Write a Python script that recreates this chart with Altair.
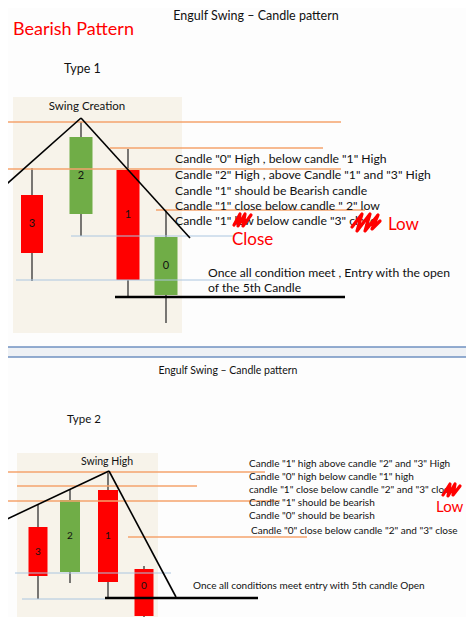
import altair as alt
import pandas as pd

FONT = "Lato"

# ---------------- candles (picture coordinates, y grows downward) -------------
c_label = ["3", "2", "1", "0", "3", "2", "1", "0"]
c_x = [32, 81, 128, 166, 38, 70, 108, 144]
c_half = [11, 11.5, 11.5, 11.5, 9.5, 10, 10, 9.5]
c_open = [195, 214, 170, 295, 527, 572, 490, 569]
c_close = [253, 137, 280, 237, 576, 500, 582, 616]
c_high = [168, 122, 149, 210, 505, 489, 472, 566]
c_low = [281, 236, 298, 323, 599, 583, 598, 622]
c_fs = [11, 11, 11, 11, 10, 10, 10, 10]
c_label_y = [224, 176, 215, 266, 552, 536, 536, 586]

# ---------------- horizontal guide lines ---------------------------------------
g_y = [122, 148, 169, 210, 236, 280, 472, 486, 501, 537, 573, 599]
g_x1 = [0, 110, 0, 156, 71, 16, 0, 17, 6, 128, 15, 22]
g_x2 = [341, 323, 341, 365, 235, 258, 265, 197, 280, 307, 171, 105]
g_kind = ["o", "o", "o", "o", "b", "b", "o", "o", "o", "o", "b", "b"]

# thick black base lines
k_y = [297, 598]
k_x1 = [115, 105]
k_x2 = [345, 258]

# swing lines (segments)
s_x1 = [0, 81, 5, 109]
s_y1 = [190, 118, 520, 471]
s_x2 = [81, 190, 109, 176]
s_y2 = [118, 238, 471, 597]

# ---------------- texts ---------------------------------------------------------
tc_text = ["Engulf Swing \u2013 Candle pattern", "Swing Creation",
           "Engulf Swing \u2013 Candle pattern", "Swing High"]
tc_x = [256, 87, 228, 107]
tc_y = [16, 107, 371, 462]
tc_fs = [12.5, 11.5, 10.5, 10.5]

tl_text = [
    "Bearish Pattern", "Type 1",
    'Candle "0" High , below candle "1" High',
    'Candle "2" High , above Candle "1" and "3" High',
    'Candle "1" should be Bearish candle',
    'Candle "1" close below candle " 2" low',
    'Candle "1" low below candle "3" close',
    "Close", "Low",
    "Once all condition meet , Entry with the open",
    "of the 5th Candle",
    "Type 2",
    'Candle "1" high above candle "2" and "3" High',
    'Candle "0" high below candle "1" high',
    'candle "1" close below candle "2" and "3" close',
    'Candle "1" should be bearish',
    'Candle "0" should be bearish',
    'Candle "0" close below candle "2" and "3" close',
    "Low",
    "Once all conditions meet entry with 5th candle Open",
]
tl_x = [13, 64, 175, 175, 175, 175, 175, 232, 388, 208, 208, 67,
        249, 249, 249, 249, 249, 251, 436, 193]
tl_y = [30, 69, 159, 175, 191, 206, 221, 240, 225, 273, 288, 420,
        464, 477, 490, 503, 516, 531, 507, 586]
tl_fs = [18, 12.5, 12.2, 12.2, 12.2, 12.2, 12.2, 17, 17, 12.2, 12.2, 11.5,
         10, 10, 10, 10, 10, 10, 15, 10]
tl_red = [1, 0, 0, 0, 0, 0, 0, 1, 1, 0, 0, 0, 0, 0, 0, 0, 0, 0, 1, 0]

# red scribbles (points of each stroke)
sc_id = [1] * 6 + [2] * 8 + [3] * 6
sc_x = [234, 240, 238, 245, 243, 251,
        352, 362, 357, 370, 365, 378, 372, 380,
        443, 450, 448, 455, 453, 460]
sc_y = [225, 214, 226, 214, 226, 215,
        227, 214, 231, 214, 231, 215, 229, 221,
        495, 484, 496, 484, 495, 486]

# panel backgrounds
bg_x1 = [13, 17]
bg_x2 = [182, 158]
bg_y1 = [97, 453]
bg_y2 = [333, 630]

RED = "#ff0000"
GREEN = "#70ad47"
ORANGE = "#f4a36c"
BLUE = "#abc6e0"

# ---------------- build tables --------------------------------------------------
candles = pd.DataFrame({
    "label": c_label, "x": c_x, "half": c_half, "open": c_open,
    "close": c_close, "high": c_high, "low": c_low, "fs": c_fs,
    "ly": c_label_y,
})
candles["left"] = candles["x"] - candles["half"]
candles["right"] = candles["x"] + candles["half"]
candles["top"] = candles[["open", "close"]].min(axis=1)
candles["bottom"] = candles[["open", "close"]].max(axis=1)
candles["col"] = [RED if c > o else GREEN for o, c in zip(candles["open"], candles["close"])]

guides = pd.DataFrame({"y": g_y, "x1": g_x1, "x2": g_x2, "kind": g_kind})
guides["col"] = [ORANGE if k == "o" else BLUE for k in g_kind]
guides["w"] = [1.4 if k == "o" else 1.0 for k in g_kind]

base_lines = pd.DataFrame({"y": k_y, "x1": k_x1, "x2": k_x2})
swings = pd.DataFrame({"x1": s_x1, "y1": s_y1, "x2": s_x2, "y2": s_y2})
tcen = pd.DataFrame({"t": tc_text, "x": tc_x, "y": tc_y, "fs": tc_fs})
tleft = pd.DataFrame({"t": tl_text, "x": tl_x, "y": tl_y, "fs": tl_fs})
tleft["col"] = [RED if r else "#111111" for r in tl_red]
scrib = pd.DataFrame({"id": sc_id, "x": sc_x, "y": sc_y, "o": list(range(len(sc_x)))})
panels = pd.DataFrame({"x1": bg_x1, "x2": bg_x2, "y1": bg_y1, "y2": bg_y2})
divider = pd.DataFrame({"x1": [0], "x2": [474], "y1": [347], "y2": [357]})
div_lines = pd.DataFrame({"y": [347, 357], "x1": [0, 0], "x2": [474, 474]})

XS = alt.Scale(domain=[8, 466], nice=False, zero=False)
YS = alt.Scale(domain=[617, 8], nice=False, zero=False)


def X(f):
    return alt.X(f"{f}:Q", scale=XS, axis=None)


def Y(f):
    return alt.Y(f"{f}:Q", scale=YS, axis=None)


panel_bg = alt.Chart(panels).mark_rect(color="#f7f3ea").encode(
    x=X("x1"), x2="x2", y=Y("y1"), y2="y2")
div_bg = alt.Chart(divider).mark_rect(color="#eef1f5").encode(
    x=X("x1"), x2="x2", y=Y("y1"), y2="y2")
div_rules = alt.Chart(div_lines).mark_rule(color="#6f91c0", strokeWidth=1.3).encode(
    x=X("x1"), x2="x2", y=Y("y"))

wicks = alt.Chart(candles).mark_rule(color="#222222", strokeWidth=1.2).encode(
    x=X("x"), y=Y("high"), y2="low")
bodies = alt.Chart(candles).mark_rect().encode(
    x=X("left"), x2="right", y=Y("top"), y2="bottom",
    color=alt.Color("col:N", scale=None))
blabels = alt.Chart(candles).mark_text(font=FONT, color="#111111").encode(
    x=X("x"), y=Y("ly"), text="label:N", size=alt.Size("fs:Q", scale=None))

guide_rules = alt.Chart(guides).mark_rule().encode(
    x=X("x1"), x2="x2", y=Y("y"),
    color=alt.Color("col:N", scale=None),
    strokeWidth=alt.StrokeWidth("w:Q", scale=None))

swing_rules = alt.Chart(swings).mark_rule(color="#000000", strokeWidth=1.6).encode(
    x=X("x1"), y=Y("y1"), x2="x2", y2="y2")
base_rules = alt.Chart(base_lines).mark_rule(color="#000000", strokeWidth=2.6).encode(
    x=X("x1"), x2="x2", y=Y("y"))

text_c = alt.Chart(tcen).mark_text(font=FONT, color="#111111", align="center",
                                   baseline="middle").encode(
    x=X("x"), y=Y("y"), text="t:N", size=alt.Size("fs:Q", scale=None))
text_l = alt.Chart(tleft).mark_text(font=FONT, align="left", baseline="middle").encode(
    x=X("x"), y=Y("y"), text="t:N", size=alt.Size("fs:Q", scale=None),
    color=alt.Color("col:N", scale=None))

scribbles = alt.Chart(scrib).mark_line(color=RED, strokeWidth=3.2,
                                       strokeCap="round", strokeJoin="round").encode(
    x=X("x"), y=Y("y"), detail="id:N", order="o:Q")

chart = alt.layer(
    panel_bg, div_bg, div_rules, wicks, bodies, guide_rules, blabels,
    swing_rules, base_rules, text_c, text_l, scribbles,
).properties(
    width=458, height=609, background="#fdfdfd",
    autosize=alt.AutoSizeParams(type="none"), padding=0,
).configure_view(stroke=None)

chart.save("out.html", embed_options={"renderer": "svg", "actions": False})
